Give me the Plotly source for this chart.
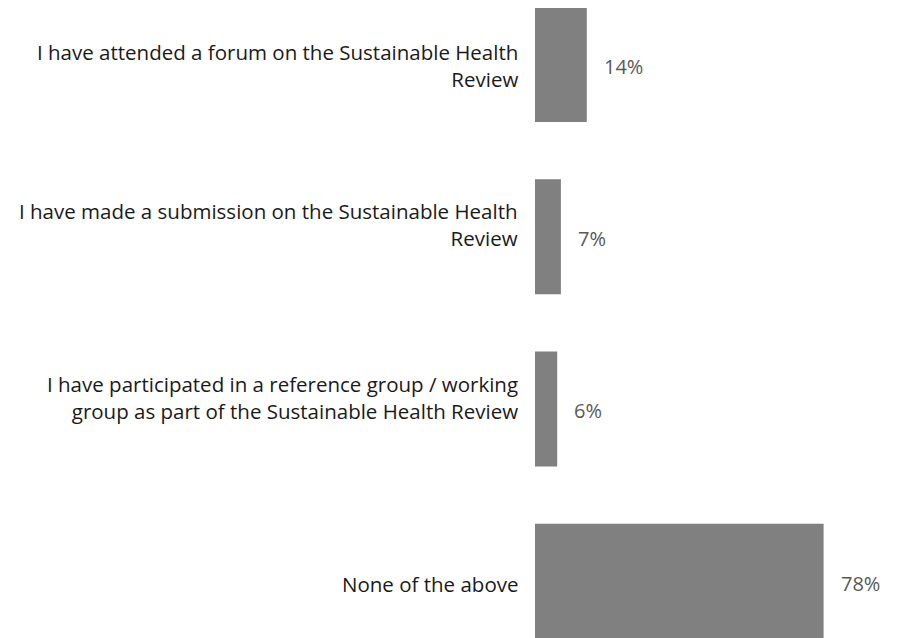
import plotly.graph_objects as go

categories = [
    "I have attended a forum on the Sustainable Health<br>Review",
    "I have made a submission on the Sustainable Health<br>Review",
    "I have participated in a reference group / working<br>group as part of the Sustainable Health Review",
    "None of the above",
]
values = [14, 7, 6, 78]
value_labels = ["14%", "7%", "6%", "78%"]

# small vertical nudges of the category labels (px), as seen in the reference
label_yshift = [-1, 12, 11, -3]

FONT = "Open Sans"
FS = 20.5

fig = go.Figure()
fig.add_trace(go.Bar(
    y=categories,
    x=values,
    orientation="h",
    marker=dict(color="#808080", line=dict(width=0)),
    width=0.667,
    hoverinfo="skip",
))

for c, v, t, dy in zip(categories, values, value_labels, label_yshift):
    # value label to the right of the bar
    fig.add_annotation(
        x=v, y=c, text=t, showarrow=False,
        xanchor="left", yanchor="middle", xshift=15, yshift=-2,
        font=dict(family=FONT, size=20, color="#595959"),
    )
    # category label to the left of the axis
    fig.add_annotation(
        xref="paper", x=0, y=c, text=c, showarrow=False,
        xanchor="right", yanchor="middle", align="right",
        xshift=-15, yshift=dy,
        font=dict(family=FONT, size=FS, color="#1a1a1a"),
    )

fig.update_layout(
    width=897, height=630,
    margin=dict(l=527, r=0, t=0, b=0),
    paper_bgcolor="white", plot_bgcolor="white",
    showlegend=False,
    font=dict(family=FONT, size=FS, color="#1a1a1a"),
    xaxis=dict(range=[0, 100], visible=False, fixedrange=True),
    yaxis=dict(
        type="category",
        categoryorder="array", categoryarray=categories,
        range=[3.330, -0.328],
        showgrid=False, zeroline=False, showline=False,
        showticklabels=False, ticks="",
        fixedrange=True,
    ),
)

fig.write_html("out.html")
